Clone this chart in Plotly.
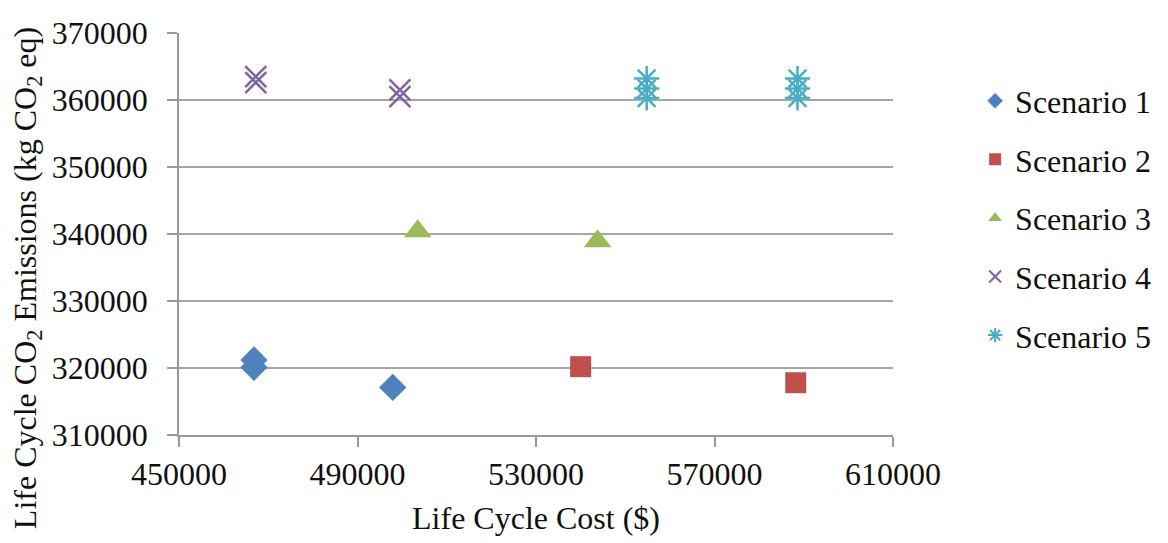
import plotly.graph_objects as go

names = ["Scenario 1", "Scenario 2", "Scenario 3", "Scenario 4", "Scenario 5"]
s1_x = [466800, 466800, 497900]
s1_y = [321200, 320100, 317100]
s2_x = [540000, 588200]
s2_y = [320200, 317800]
s3_x = [503500, 543800]
s3_y = [340400, 338900]
s4_x = [467200, 467200, 499500, 499500]
s4_y = [363500, 362600, 361500, 360500]
s5_x = [554800, 554800, 554800, 588600, 588600, 588600]
s5_y = [363200, 361700, 360300, 363200, 361700, 360300]

colors = ["#4F81BD", "#C0504D", "#9BBB59", "#8064A2", "#4BACC6"]
symbols = ["diamond", "square", "triangle-up", "x-thin-open", "asterisk-open"]
sizes = [21, 21, 24, 21, 21]
xs = [s1_x, s2_x, s3_x, s4_x, s5_x]
ys = [s1_y, s2_y, s3_y, s4_y, s5_y]

fig = go.Figure()
for i in range(5):
    fig.add_trace(go.Scatter(
        x=xs[i], y=ys[i], mode="markers", name=names[i], legendgroup=names[i],
        marker=dict(symbol=symbols[i], size=sizes[i], color=colors[i],
                    line=dict(color=colors[i], width=2.5 if i >= 3 else 0)),
    ))

font = "Liberation Serif, Times New Roman, serif"
txt = "#111111"
fig.update_layout(
    width=1168, height=543,
    margin=dict(l=179, r=275, t=33, b=108),
    paper_bgcolor="white", plot_bgcolor="white",
    font=dict(family=font, size=32, color=txt),
    showlegend=True,
    legend=dict(x=1.115, y=0.54, xanchor="left", yanchor="middle",
                traceorder="grouped", tracegroupgap=14,
                font=dict(family=font, size=32, color=txt),
                itemsizing="constant"),
    xaxis=dict(range=[450000, 610000], tickvals=[450000, 490000, 530000, 570000, 610000],
               ticktext=["450000", "490000", "530000", "570000", "610000"],
               showgrid=False, zeroline=False, showline=True, linecolor="#999999", linewidth=1.5,
               ticks="outside", ticklen=10, tickcolor="#999999", tickwidth=1.5,
               ticklabelstandoff=0,
               title=dict(text="Life Cycle Cost ($)", font=dict(family=font, size=32, color=txt), standoff=15),
               tickfont=dict(family=font, size=32, color=txt)),
    yaxis=dict(range=[310000, 370000], tickvals=[310000, 320000, 330000, 340000, 350000, 360000, 370000],
               ticktext=["310000", "320000", "330000", "340000", "350000", "360000", "370000"],
               showgrid=True, gridcolor="#A6A6A6", gridwidth=1.5, zeroline=False,
               showline=True, linecolor="#999999", linewidth=1.5,
               ticks="outside", ticklen=10, tickcolor="#999999", tickwidth=1.5,
               ticklabelstandoff=13,
               tickfont=dict(family=font, size=32, color=txt)),
    annotations=[dict(text="Life Cycle CO<sub>2</sub> Emissions (kg CO<sub>2</sub> eq)",
                      xref="paper", yref="paper", x=-0.213, y=0.39,
                      xanchor="center", yanchor="middle", textangle=-90, showarrow=False,
                      font=dict(family=font, size=32, color=txt))],
)
fig.write_html("out.html")
